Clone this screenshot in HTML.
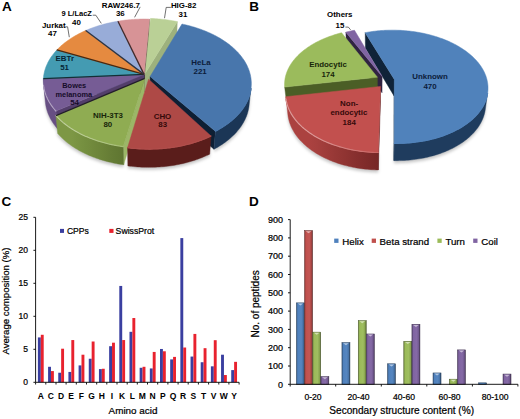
<!DOCTYPE html>
<html><head><meta charset="utf-8"><style>
html,body{margin:0;padding:0;background:#fff;}
body{width:520px;height:419px;overflow:hidden;}
svg{display:block;font-family:"Liberation Sans",sans-serif;}
</style></head><body>
<svg width="520" height="419" viewBox="0 0 520 419" font-family="'Liberation Sans', sans-serif">
<defs><filter id="shblur" x="-20%" y="-20%" width="140%" height="140%"><feGaussianBlur stdDeviation="1.8"/></filter></defs>
<rect width="520" height="419" fill="#fff"/>
<text x="2.0" y="10.8" font-size="13.50" text-anchor="start" font-weight="bold" fill="#000" >A</text>
<text x="249.3" y="11.1" font-size="13.50" text-anchor="start" font-weight="bold" fill="#000" >B</text>
<text x="1.6" y="205.6" font-size="13.50" text-anchor="start" font-weight="bold" fill="#000" >C</text>
<text x="249.0" y="205.7" font-size="13.50" text-anchor="start" font-weight="bold" fill="#000" >D</text>
<defs><linearGradient id="g0" gradientUnits="userSpaceOnUse" x1="215.40" x2="251.03" y1="0" y2="0"><stop offset="0.041" stop-color="#1b3656"/><stop offset="0.159" stop-color="#1b3656"/><stop offset="0.271" stop-color="#1b3656"/><stop offset="0.375" stop-color="#1b3656"/><stop offset="0.472" stop-color="#1b3656"/><stop offset="0.562" stop-color="#1b3656"/><stop offset="0.643" stop-color="#1b3656"/><stop offset="0.717" stop-color="#1b3656"/><stop offset="0.782" stop-color="#1b3656"/><stop offset="0.839" stop-color="#1b3656"/><stop offset="0.888" stop-color="#1b3656"/><stop offset="0.928" stop-color="#1b3656"/><stop offset="0.960" stop-color="#1b3656"/><stop offset="0.984" stop-color="#1b3656"/><stop offset="1.000" stop-color="#1b3656"/></linearGradient><linearGradient id="b1" gradientUnits="userSpaceOnUse" x1="215.40" x2="251.03" y1="0" y2="0"><stop offset="0.041" stop-color="#4876ac"/><stop offset="0.159" stop-color="#4876ac"/><stop offset="0.271" stop-color="#4876ac"/><stop offset="0.375" stop-color="#4876ac"/><stop offset="0.472" stop-color="#4876ac"/><stop offset="0.562" stop-color="#4876ac"/><stop offset="0.643" stop-color="#4876ac"/><stop offset="0.717" stop-color="#4876ac"/><stop offset="0.782" stop-color="#4876ac"/><stop offset="0.839" stop-color="#4876ac"/><stop offset="0.888" stop-color="#4876ac"/><stop offset="0.928" stop-color="#4876ac"/><stop offset="0.960" stop-color="#4876ac"/><stop offset="0.984" stop-color="#4876ac"/><stop offset="1.000" stop-color="#4876ac"/></linearGradient><linearGradient id="g2" gradientUnits="userSpaceOnUse" x1="127.55" x2="211.04" y1="0" y2="0"><stop offset="0.047" stop-color="#5a1d1b"/><stop offset="0.119" stop-color="#5a1d1b"/><stop offset="0.192" stop-color="#5a1d1b"/><stop offset="0.264" stop-color="#5a1d1b"/><stop offset="0.337" stop-color="#5a1d1b"/><stop offset="0.409" stop-color="#5a1d1b"/><stop offset="0.481" stop-color="#5a1d1b"/><stop offset="0.551" stop-color="#5a1d1b"/><stop offset="0.621" stop-color="#5a1d1b"/><stop offset="0.689" stop-color="#5a1d1b"/><stop offset="0.755" stop-color="#5a1d1b"/><stop offset="0.820" stop-color="#5a1d1b"/><stop offset="0.882" stop-color="#5a1d1b"/><stop offset="0.943" stop-color="#5a1d1b"/><stop offset="1.000" stop-color="#5a1d1b"/></linearGradient><linearGradient id="b3" gradientUnits="userSpaceOnUse" x1="127.55" x2="211.04" y1="0" y2="0"><stop offset="0.047" stop-color="#b04d4a"/><stop offset="0.119" stop-color="#b04d4a"/><stop offset="0.192" stop-color="#b04d4a"/><stop offset="0.264" stop-color="#b04d4a"/><stop offset="0.337" stop-color="#b04d4a"/><stop offset="0.409" stop-color="#b04d4a"/><stop offset="0.481" stop-color="#b04d4a"/><stop offset="0.551" stop-color="#b04d4a"/><stop offset="0.621" stop-color="#b04d4a"/><stop offset="0.689" stop-color="#b04d4a"/><stop offset="0.755" stop-color="#b04d4a"/><stop offset="0.820" stop-color="#b04d4a"/><stop offset="0.882" stop-color="#b04d4a"/><stop offset="0.943" stop-color="#b04d4a"/><stop offset="1.000" stop-color="#b04d4a"/></linearGradient><linearGradient id="g4" gradientUnits="userSpaceOnUse" x1="55.94" x2="123.26" y1="0" y2="0"><stop offset="0.028" stop-color="#7d9745"/><stop offset="0.075" stop-color="#7d9745"/><stop offset="0.125" stop-color="#7d9745"/><stop offset="0.180" stop-color="#7d9745"/><stop offset="0.238" stop-color="#7d9745"/><stop offset="0.301" stop-color="#7a9443"/><stop offset="0.367" stop-color="#779141"/><stop offset="0.437" stop-color="#748e3f"/><stop offset="0.510" stop-color="#728b3d"/><stop offset="0.585" stop-color="#6f873b"/><stop offset="0.664" stop-color="#6c8439"/><stop offset="0.745" stop-color="#698037"/><stop offset="0.828" stop-color="#657c35"/><stop offset="0.913" stop-color="#627933"/><stop offset="1.000" stop-color="#5f7531"/></linearGradient><linearGradient id="b5" gradientUnits="userSpaceOnUse" x1="55.94" x2="123.26" y1="0" y2="0"><stop offset="0.028" stop-color="#bfcf9c"/><stop offset="0.075" stop-color="#bfcf9c"/><stop offset="0.125" stop-color="#bfcf9c"/><stop offset="0.180" stop-color="#bfcf9c"/><stop offset="0.238" stop-color="#bfcf9c"/><stop offset="0.301" stop-color="#bdce98"/><stop offset="0.367" stop-color="#bacc95"/><stop offset="0.437" stop-color="#b8ca91"/><stop offset="0.510" stop-color="#b6c98d"/><stop offset="0.585" stop-color="#b3c78a"/><stop offset="0.664" stop-color="#b0c586"/><stop offset="0.745" stop-color="#aec382"/><stop offset="0.828" stop-color="#abc17e"/><stop offset="0.913" stop-color="#a8bf79"/><stop offset="1.000" stop-color="#a6bd75"/></linearGradient><linearGradient id="g6" gradientUnits="userSpaceOnUse" x1="43.54" x2="55.90" y1="0" y2="0"><stop offset="0.000" stop-color="#674f83"/><stop offset="0.025" stop-color="#674f83"/><stop offset="0.060" stop-color="#674f83"/><stop offset="0.106" stop-color="#674f83"/><stop offset="0.163" stop-color="#674f83"/><stop offset="0.230" stop-color="#674f83"/><stop offset="0.308" stop-color="#674f83"/><stop offset="0.397" stop-color="#674f83"/><stop offset="0.496" stop-color="#674f83"/><stop offset="0.606" stop-color="#674f83"/><stop offset="0.727" stop-color="#674f83"/><stop offset="0.858" stop-color="#674f83"/><stop offset="1.000" stop-color="#674f83"/></linearGradient><linearGradient id="b7" gradientUnits="userSpaceOnUse" x1="43.54" x2="55.90" y1="0" y2="0"><stop offset="0.000" stop-color="#b1a2c2"/><stop offset="0.025" stop-color="#b1a2c2"/><stop offset="0.060" stop-color="#b1a2c2"/><stop offset="0.106" stop-color="#b1a2c2"/><stop offset="0.163" stop-color="#b1a2c2"/><stop offset="0.230" stop-color="#b1a2c2"/><stop offset="0.308" stop-color="#b1a2c2"/><stop offset="0.397" stop-color="#b1a2c2"/><stop offset="0.496" stop-color="#b1a2c2"/><stop offset="0.606" stop-color="#b1a2c2"/><stop offset="0.727" stop-color="#b1a2c2"/><stop offset="0.858" stop-color="#b1a2c2"/><stop offset="1.000" stop-color="#b1a2c2"/></linearGradient></defs>
<g filter="url(#shblur)" fill="#000" fill-opacity="0.22">
<path d="M251.03,88.45 L250.87,89.55 L250.69,90.66 L250.47,91.76 L250.22,92.87 L249.93,93.97 L249.61,95.07 L249.27,96.17 L248.88,97.27 L248.47,98.36 L248.02,99.45 L247.54,100.54 L247.03,101.63 L246.48,102.71 L245.90,103.78 L245.29,104.85 L244.64,105.92 L243.97,106.98 L243.26,108.03 L242.51,109.08 L241.74,110.12 L240.93,111.16 L240.09,112.18 L239.22,113.20 L238.32,114.21 L237.38,115.21 L236.41,116.20 L235.42,117.18 L234.39,118.15 L233.33,119.11 L232.23,120.06 L231.11,120.99 L229.96,121.92 L228.78,122.83 L227.57,123.73 L226.33,124.62 L225.06,125.49 L223.76,126.35 L222.44,127.20 L221.08,128.03 L219.70,128.85 L218.30,129.65 L216.86,130.43 L215.40,131.20 L213.97,149.27 L215.40,148.50 L216.81,147.70 L218.19,146.90 L219.54,146.07 L220.87,145.24 L222.17,144.38 L223.44,143.52 L224.69,142.63 L225.91,141.74 L227.10,140.83 L228.26,139.91 L229.39,138.98 L230.49,138.03 L231.56,137.07 L232.61,136.11 L233.62,135.13 L234.60,134.14 L235.55,133.14 L236.47,132.13 L237.36,131.11 L238.22,130.08 L239.04,129.05 L239.84,128.01 L240.60,126.96 L241.33,125.90 L242.03,124.83 L242.70,123.76 L243.34,122.69 L243.94,121.61 L244.51,120.52 L245.05,119.43 L245.56,118.33 L246.03,117.23 L246.48,116.13 L246.89,115.02 L247.27,113.92 L247.61,112.80 L247.93,111.69 L248.21,110.58 L248.46,109.46 L248.68,108.35 L248.87,107.23 L249.02,106.11Z" transform="translate(0.0,2.5)"/>
<path d="M211.04,136.03 L209.47,136.77 L207.87,137.49 L206.24,138.20 L204.60,138.88 L202.92,139.54 L201.23,140.19 L199.51,140.81 L197.78,141.42 L196.02,142.00 L194.24,142.56 L192.44,143.10 L190.63,143.62 L188.80,144.12 L186.95,144.59 L185.08,145.05 L183.20,145.48 L181.30,145.88 L179.39,146.27 L177.47,146.63 L175.53,146.96 L173.58,147.28 L171.62,147.57 L169.65,147.83 L167.68,148.07 L165.69,148.29 L163.70,148.48 L161.70,148.65 L159.69,148.79 L157.68,148.91 L155.67,149.00 L153.65,149.07 L151.63,149.11 L149.61,149.13 L147.59,149.12 L145.57,149.09 L143.55,149.04 L141.54,148.95 L139.52,148.85 L137.51,148.72 L135.51,148.56 L133.51,148.38 L131.52,148.18 L129.53,147.95 L127.55,147.69 L127.89,165.89 L129.83,166.14 L131.77,166.37 L133.73,166.58 L135.68,166.76 L137.65,166.92 L139.62,167.05 L141.59,167.16 L143.56,167.24 L145.54,167.29 L147.52,167.33 L149.50,167.33 L151.48,167.31 L153.45,167.27 L155.43,167.20 L157.40,167.11 L159.37,166.99 L161.33,166.85 L163.29,166.68 L165.24,166.49 L167.19,166.27 L169.13,166.02 L171.05,165.76 L172.97,165.47 L174.88,165.15 L176.78,164.81 L178.66,164.45 L180.53,164.06 L182.39,163.65 L184.24,163.22 L186.06,162.77 L187.88,162.29 L189.67,161.79 L191.45,161.26 L193.21,160.72 L194.96,160.15 L196.68,159.57 L198.38,158.96 L200.06,158.33 L201.73,157.68 L203.36,157.01 L204.98,156.32 L206.57,155.61 L208.14,154.88 L209.69,154.14Z" transform="translate(0.0,2.5)"/>
<path d="M123.26,146.62 L121.30,146.35 L119.36,146.05 L117.42,145.73 L115.50,145.38 L113.59,145.01 L111.69,144.62 L109.81,144.20 L107.94,143.77 L106.09,143.30 L104.26,142.82 L102.44,142.32 L100.64,141.79 L98.85,141.25 L97.09,140.68 L95.34,140.09 L93.62,139.48 L91.92,138.85 L90.24,138.20 L88.58,137.53 L86.95,136.84 L85.33,136.14 L83.75,135.41 L82.19,134.67 L80.65,133.91 L79.14,133.13 L77.65,132.34 L76.20,131.52 L74.77,130.70 L73.36,129.85 L71.99,128.99 L70.64,128.12 L69.33,127.23 L68.04,126.33 L66.79,125.41 L65.56,124.48 L64.36,123.54 L63.20,122.59 L62.07,121.62 L60.96,120.64 L59.89,119.65 L58.86,118.65 L57.85,117.64 L56.88,116.62 L55.94,115.59 L57.67,133.52 L58.59,134.56 L59.55,135.59 L60.54,136.61 L61.56,137.62 L62.61,138.62 L63.69,139.61 L64.80,140.58 L65.95,141.55 L67.12,142.50 L68.33,143.43 L69.56,144.36 L70.82,145.27 L72.11,146.16 L73.43,147.04 L74.78,147.91 L76.16,148.76 L77.56,149.60 L78.99,150.41 L80.45,151.22 L81.93,152.00 L83.44,152.77 L84.97,153.52 L86.53,154.25 L88.10,154.96 L89.71,155.65 L91.33,156.33 L92.98,156.98 L94.65,157.61 L96.34,158.23 L98.05,158.82 L99.78,159.39 L101.52,159.94 L103.29,160.47 L105.07,160.98 L106.87,161.47 L108.68,161.93 L110.51,162.37 L112.36,162.79 L114.22,163.18 L116.09,163.56 L117.97,163.91 L119.87,164.23 L121.77,164.53 L123.69,164.81Z" transform="translate(0.0,2.5)"/>
<path d="M55.90,111.05 L55.01,110.03 L54.15,109.01 L53.32,107.98 L52.53,106.94 L51.76,105.90 L51.03,104.85 L50.34,103.79 L49.67,102.73 L49.04,101.66 L48.45,100.59 L47.88,99.51 L47.35,98.43 L46.85,97.34 L46.39,96.25 L45.95,95.16 L45.55,94.06 L45.19,92.97 L44.85,91.87 L44.55,90.77 L44.29,89.66 L44.05,88.56 L43.85,87.46 L43.68,86.36 L43.54,85.25 L45.41,102.88 L45.55,104.00 L45.72,105.11 L45.93,106.23 L46.16,107.34 L46.43,108.45 L46.73,109.57 L47.06,110.68 L47.42,111.79 L47.82,112.89 L48.24,114.00 L48.70,115.10 L49.20,116.19 L49.72,117.29 L50.28,118.38 L50.87,119.46 L51.49,120.54 L52.14,121.61 L52.83,122.68 L53.55,123.74 L54.30,124.80 L55.08,125.84 L55.89,126.88 L56.74,127.91 L57.62,128.94Z" transform="translate(0.0,2.5)"/>
</g>
<path d="M144.06,74.39 L149.49,19.15 L149.40,35.90 L144.06,91.89Z" fill="#563537" stroke="#563537" stroke-width="0.4" stroke-linejoin="round"/>
<path d="M145.09,73.53 L177.28,21.63 L176.73,38.42 L145.07,91.02Z" fill="#9db17d" stroke="#9db17d" stroke-width="0.4" stroke-linejoin="round"/>
<path d="M144.06,74.39 L117.94,21.18 L118.37,37.96 L144.06,91.89Z" fill="#563537" stroke="#563537" stroke-width="0.4" stroke-linejoin="round"/>
<path d="M144.06,74.39 L85.73,30.50 L86.72,47.43 L144.06,91.89Z" fill="#374156" stroke="#374156" stroke-width="0.4" stroke-linejoin="round"/>
<path d="M144.06,74.39 L56.86,49.99 L58.39,67.19 L144.06,91.89Z" fill="#5c300c" stroke="#5c300c" stroke-width="0.4" stroke-linejoin="round"/>
<path d="M144.06,74.39 L43.38,78.67 L45.24,96.22 L144.06,91.89Z" fill="#123c47" stroke="#123c47" stroke-width="0.4" stroke-linejoin="round"/>
<path d="M144.06,74.39 L55.90,111.05 L57.62,128.94 L144.06,91.89Z" fill="#533e6b" stroke="#533e6b" stroke-width="0.4" stroke-linejoin="round"/>
<path d="M55.90,111.05 L55.01,110.03 L54.15,109.01 L53.32,107.98 L52.53,106.94 L51.76,105.90 L51.03,104.85 L50.34,103.79 L49.67,102.73 L49.04,101.66 L48.45,100.59 L47.88,99.51 L47.35,98.43 L46.85,97.34 L46.39,96.25 L45.95,95.16 L45.55,94.06 L45.19,92.97 L44.85,91.87 L44.55,90.77 L44.29,89.66 L44.05,88.56 L43.85,87.46 L43.68,86.36 L43.54,85.25 L45.41,102.88 L45.55,104.00 L45.72,105.11 L45.93,106.23 L46.16,107.34 L46.43,108.45 L46.73,109.57 L47.06,110.68 L47.42,111.79 L47.82,112.89 L48.24,114.00 L48.70,115.10 L49.20,116.19 L49.72,117.29 L50.28,118.38 L50.87,119.46 L51.49,120.54 L52.14,121.61 L52.83,122.68 L53.55,123.74 L54.30,124.80 L55.08,125.84 L55.89,126.88 L56.74,127.91 L57.62,128.94Z" fill="url(#g6)" stroke="url(#g6)" stroke-width="0.4" stroke-linejoin="round"/>
<path d="M150.13,76.48 L215.40,131.20 L213.97,149.27 L150.02,94.01Z" fill="#0e1f34" stroke="#0e1f34" stroke-width="0.4" stroke-linejoin="round"/>
<path d="M251.03,88.45 L250.87,89.55 L250.69,90.66 L250.47,91.76 L250.22,92.87 L249.93,93.97 L249.61,95.07 L249.27,96.17 L248.88,97.27 L248.47,98.36 L248.02,99.45 L247.54,100.54 L247.03,101.63 L246.48,102.71 L245.90,103.78 L245.29,104.85 L244.64,105.92 L243.97,106.98 L243.26,108.03 L242.51,109.08 L241.74,110.12 L240.93,111.16 L240.09,112.18 L239.22,113.20 L238.32,114.21 L237.38,115.21 L236.41,116.20 L235.42,117.18 L234.39,118.15 L233.33,119.11 L232.23,120.06 L231.11,120.99 L229.96,121.92 L228.78,122.83 L227.57,123.73 L226.33,124.62 L225.06,125.49 L223.76,126.35 L222.44,127.20 L221.08,128.03 L219.70,128.85 L218.30,129.65 L216.86,130.43 L215.40,131.20 L213.97,149.27 L215.40,148.50 L216.81,147.70 L218.19,146.90 L219.54,146.07 L220.87,145.24 L222.17,144.38 L223.44,143.52 L224.69,142.63 L225.91,141.74 L227.10,140.83 L228.26,139.91 L229.39,138.98 L230.49,138.03 L231.56,137.07 L232.61,136.11 L233.62,135.13 L234.60,134.14 L235.55,133.14 L236.47,132.13 L237.36,131.11 L238.22,130.08 L239.04,129.05 L239.84,128.01 L240.60,126.96 L241.33,125.90 L242.03,124.83 L242.70,123.76 L243.34,122.69 L243.94,121.61 L244.51,120.52 L245.05,119.43 L245.56,118.33 L246.03,117.23 L246.48,116.13 L246.89,115.02 L247.27,113.92 L247.61,112.80 L247.93,111.69 L248.21,110.58 L248.46,109.46 L248.68,108.35 L248.87,107.23 L249.02,106.11Z" fill="url(#g0)" stroke="url(#g0)" stroke-width="0.4" stroke-linejoin="round"/>
<path d="M144.71,78.40 L123.26,146.62 L123.69,164.81 L144.70,95.95Z" fill="#9cb667" stroke="#9cb667" stroke-width="0.4" stroke-linejoin="round"/>
<path d="M123.26,146.62 L121.30,146.35 L119.36,146.05 L117.42,145.73 L115.50,145.38 L113.59,145.01 L111.69,144.62 L109.81,144.20 L107.94,143.77 L106.09,143.30 L104.26,142.82 L102.44,142.32 L100.64,141.79 L98.85,141.25 L97.09,140.68 L95.34,140.09 L93.62,139.48 L91.92,138.85 L90.24,138.20 L88.58,137.53 L86.95,136.84 L85.33,136.14 L83.75,135.41 L82.19,134.67 L80.65,133.91 L79.14,133.13 L77.65,132.34 L76.20,131.52 L74.77,130.70 L73.36,129.85 L71.99,128.99 L70.64,128.12 L69.33,127.23 L68.04,126.33 L66.79,125.41 L65.56,124.48 L64.36,123.54 L63.20,122.59 L62.07,121.62 L60.96,120.64 L59.89,119.65 L58.86,118.65 L57.85,117.64 L56.88,116.62 L55.94,115.59 L57.67,133.52 L58.59,134.56 L59.55,135.59 L60.54,136.61 L61.56,137.62 L62.61,138.62 L63.69,139.61 L64.80,140.58 L65.95,141.55 L67.12,142.50 L68.33,143.43 L69.56,144.36 L70.82,145.27 L72.11,146.16 L73.43,147.04 L74.78,147.91 L76.16,148.76 L77.56,149.60 L78.99,150.41 L80.45,151.22 L81.93,152.00 L83.44,152.77 L84.97,153.52 L86.53,154.25 L88.10,154.96 L89.71,155.65 L91.33,156.33 L92.98,156.98 L94.65,157.61 L96.34,158.23 L98.05,158.82 L99.78,159.39 L101.52,159.94 L103.29,160.47 L105.07,160.98 L106.87,161.47 L108.68,161.93 L110.51,162.37 L112.36,162.79 L114.22,163.18 L116.09,163.56 L117.97,163.91 L119.87,164.23 L121.77,164.53 L123.69,164.81Z" fill="url(#g4)" stroke="url(#g4)" stroke-width="0.4" stroke-linejoin="round"/>
<path d="M211.04,136.03 L209.47,136.77 L207.87,137.49 L206.24,138.20 L204.60,138.88 L202.92,139.54 L201.23,140.19 L199.51,140.81 L197.78,141.42 L196.02,142.00 L194.24,142.56 L192.44,143.10 L190.63,143.62 L188.80,144.12 L186.95,144.59 L185.08,145.05 L183.20,145.48 L181.30,145.88 L179.39,146.27 L177.47,146.63 L175.53,146.96 L173.58,147.28 L171.62,147.57 L169.65,147.83 L167.68,148.07 L165.69,148.29 L163.70,148.48 L161.70,148.65 L159.69,148.79 L157.68,148.91 L155.67,149.00 L153.65,149.07 L151.63,149.11 L149.61,149.13 L147.59,149.12 L145.57,149.09 L143.55,149.04 L141.54,148.95 L139.52,148.85 L137.51,148.72 L135.51,148.56 L133.51,148.38 L131.52,148.18 L129.53,147.95 L127.55,147.69 L127.89,165.89 L129.83,166.14 L131.77,166.37 L133.73,166.58 L135.68,166.76 L137.65,166.92 L139.62,167.05 L141.59,167.16 L143.56,167.24 L145.54,167.29 L147.52,167.33 L149.50,167.33 L151.48,167.31 L153.45,167.27 L155.43,167.20 L157.40,167.11 L159.37,166.99 L161.33,166.85 L163.29,166.68 L165.24,166.49 L167.19,166.27 L169.13,166.02 L171.05,165.76 L172.97,165.47 L174.88,165.15 L176.78,164.81 L178.66,164.45 L180.53,164.06 L182.39,163.65 L184.24,163.22 L186.06,162.77 L187.88,162.29 L189.67,161.79 L191.45,161.26 L193.21,160.72 L194.96,160.15 L196.68,159.57 L198.38,158.96 L200.06,158.33 L201.73,157.68 L203.36,157.01 L204.98,156.32 L206.57,155.61 L208.14,154.88 L209.69,154.14Z" fill="url(#g2)" stroke="url(#g2)" stroke-width="0.4" stroke-linejoin="round"/>
<path d="M150.13,76.48 L182.01,24.06 L183.52,24.39 L185.03,24.73 L186.53,25.08 L188.02,25.45 L189.50,25.83 L190.97,26.23 L192.43,26.64 L193.89,27.07 L195.33,27.51 L196.76,27.97 L198.19,28.44 L199.60,28.92 L201.00,29.42 L202.39,29.93 L203.77,30.46 L205.13,31.00 L206.49,31.56 L207.83,32.13 L209.15,32.71 L210.46,33.31 L211.76,33.92 L213.05,34.54 L214.32,35.18 L215.57,35.83 L216.81,36.49 L218.03,37.17 L219.24,37.86 L220.43,38.56 L221.60,39.27 L222.76,40.00 L223.89,40.74 L225.01,41.49 L226.11,42.26 L227.20,43.03 L228.26,43.82 L229.31,44.62 L230.33,45.44 L231.33,46.26 L232.32,47.09 L233.28,47.94 L234.22,48.80 L235.14,49.66 L236.04,50.54 L236.92,51.43 L237.77,52.33 L238.60,53.24 L239.41,54.15 L240.19,55.08 L240.95,56.02 L241.69,56.97 L242.40,57.92 L243.09,58.89 L243.75,59.86 L244.39,60.84 L245.00,61.83 L245.58,62.83 L246.14,63.84 L246.67,64.85 L247.17,65.87 L247.65,66.90 L248.10,67.93 L248.52,68.97 L248.91,70.02 L249.27,71.07 L249.61,72.13 L249.91,73.19 L250.19,74.26 L250.44,75.33 L250.66,76.41 L250.85,77.49 L251.00,78.57 L251.13,79.66 L251.23,80.75 L251.29,81.84 L251.33,82.94 L251.33,84.04 L251.30,85.14 L251.24,86.24 L251.15,87.35 L251.03,88.45 L250.87,89.55 L250.69,90.66 L250.47,91.76 L250.22,92.87 L249.93,93.97 L249.61,95.07 L249.27,96.17 L248.88,97.27 L248.47,98.36 L248.02,99.45 L247.54,100.54 L247.03,101.63 L246.48,102.71 L245.90,103.78 L245.29,104.85 L244.64,105.92 L243.97,106.98 L243.26,108.03 L242.51,109.08 L241.74,110.12 L240.93,111.16 L240.09,112.18 L239.22,113.20 L238.32,114.21 L237.38,115.21 L236.41,116.20 L235.42,117.18 L234.39,118.15 L233.33,119.11 L232.23,120.06 L231.11,120.99 L229.96,121.92 L228.78,122.83 L227.57,123.73 L226.33,124.62 L225.06,125.49 L223.76,126.35 L222.44,127.20 L221.08,128.03 L219.70,128.85 L218.30,129.65 L216.86,130.43 L215.40,131.20Z" fill="#4876ac" stroke="#4876ac" stroke-width="0.5" stroke-linejoin="round"/>
<path d="M148.59,79.25 L211.04,136.03 L209.47,136.77 L207.87,137.49 L206.24,138.20 L204.60,138.88 L202.92,139.54 L201.23,140.19 L199.51,140.81 L197.78,141.42 L196.02,142.00 L194.24,142.56 L192.44,143.10 L190.63,143.62 L188.80,144.12 L186.95,144.59 L185.08,145.05 L183.20,145.48 L181.30,145.88 L179.39,146.27 L177.47,146.63 L175.53,146.96 L173.58,147.28 L171.62,147.57 L169.65,147.83 L167.68,148.07 L165.69,148.29 L163.70,148.48 L161.70,148.65 L159.69,148.79 L157.68,148.91 L155.67,149.00 L153.65,149.07 L151.63,149.11 L149.61,149.13 L147.59,149.12 L145.57,149.09 L143.55,149.04 L141.54,148.95 L139.52,148.85 L137.51,148.72 L135.51,148.56 L133.51,148.38 L131.52,148.18 L129.53,147.95 L127.55,147.69Z" fill="#ae4946" stroke="#ae4946" stroke-width="0.5" stroke-linejoin="round"/>
<path d="M144.71,78.40 L123.26,146.62 L121.30,146.35 L119.36,146.05 L117.42,145.73 L115.50,145.38 L113.59,145.01 L111.69,144.62 L109.81,144.20 L107.94,143.77 L106.09,143.30 L104.26,142.82 L102.44,142.32 L100.64,141.79 L98.85,141.25 L97.09,140.68 L95.34,140.09 L93.62,139.48 L91.92,138.85 L90.24,138.20 L88.58,137.53 L86.95,136.84 L85.33,136.14 L83.75,135.41 L82.19,134.67 L80.65,133.91 L79.14,133.13 L77.65,132.34 L76.20,131.52 L74.77,130.70 L73.36,129.85 L71.99,128.99 L70.64,128.12 L69.33,127.23 L68.04,126.33 L66.79,125.41 L65.56,124.48 L64.36,123.54 L63.20,122.59 L62.07,121.62 L60.96,120.64 L59.89,119.65 L58.86,118.65 L57.85,117.64 L56.88,116.62 L55.94,115.59Z" fill="#8fac52" stroke="#8fac52" stroke-width="0.5" stroke-linejoin="round"/>
<path d="M144.06,74.39 L55.90,111.05 L55.01,110.03 L54.15,109.01 L53.32,107.98 L52.53,106.94 L51.76,105.90 L51.03,104.85 L50.34,103.79 L49.67,102.73 L49.04,101.66 L48.45,100.59 L47.88,99.51 L47.35,98.43 L46.85,97.34 L46.39,96.25 L45.95,95.16 L45.55,94.06 L45.19,92.97 L44.85,91.87 L44.55,90.77 L44.29,89.66 L44.05,88.56 L43.85,87.46 L43.68,86.36 L43.54,85.25 L43.43,84.15 L43.36,83.05 L43.32,81.95 L43.31,80.86 L43.33,79.76 L43.38,78.67Z" fill="#765c95" stroke="#765c95" stroke-width="0.5" stroke-linejoin="round"/>
<path d="M144.06,74.39 L43.38,78.67 L43.46,77.57 L43.58,76.47 L43.73,75.37 L43.91,74.28 L44.12,73.19 L44.36,72.11 L44.63,71.03 L44.93,69.95 L45.26,68.89 L45.62,67.82 L46.01,66.77 L46.43,65.72 L46.88,64.68 L47.36,63.64 L47.86,62.61 L48.40,61.59 L48.96,60.57 L49.54,59.57 L50.16,58.57 L50.80,57.58 L51.47,56.60 L52.16,55.63 L52.88,54.66 L53.63,53.71 L54.40,52.77 L55.19,51.83 L56.01,50.91 L56.86,49.99Z" fill="#449bb2" stroke="#449bb2" stroke-width="0.5" stroke-linejoin="round"/>
<path d="M144.06,74.39 L56.86,49.99 L57.72,49.10 L58.60,48.21 L59.50,47.34 L60.43,46.47 L61.38,45.62 L62.35,44.77 L63.34,43.94 L64.36,43.12 L65.39,42.32 L66.44,41.52 L67.52,40.73 L68.61,39.96 L69.72,39.20 L70.85,38.46 L72.00,37.72 L73.17,37.00 L74.35,36.29 L75.55,35.59 L76.77,34.91 L78.00,34.24 L79.25,33.58 L80.52,32.94 L81.80,32.31 L83.09,31.69 L84.40,31.09 L85.73,30.50Z" fill="#e58a40" stroke="#e58a40" stroke-width="0.5" stroke-linejoin="round"/>
<path d="M144.06,74.39 L85.73,30.50 L87.08,29.92 L88.44,29.36 L89.81,28.81 L91.20,28.28 L92.60,27.75 L94.01,27.25 L95.43,26.76 L96.86,26.28 L98.31,25.82 L99.76,25.37 L101.23,24.94 L102.71,24.52 L104.19,24.12 L105.69,23.73 L107.19,23.36 L108.70,23.00 L110.23,22.66 L111.75,22.33 L113.29,22.02 L114.83,21.72 L116.38,21.44 L117.94,21.18Z" fill="#98acd8" stroke="#98acd8" stroke-width="0.5" stroke-linejoin="round"/>
<path d="M144.06,74.39 L117.94,21.18 L119.48,20.93 L121.03,20.70 L122.59,20.48 L124.15,20.28 L125.72,20.09 L127.29,19.92 L128.86,19.77 L130.44,19.63 L132.02,19.50 L133.60,19.39 L135.18,19.30 L136.77,19.22 L138.36,19.16 L139.95,19.11 L141.54,19.08 L143.13,19.06 L144.72,19.06 L146.31,19.07 L147.90,19.10 L149.49,19.15Z" fill="#d79396" stroke="#d79396" stroke-width="0.5" stroke-linejoin="round"/>
<path d="M145.09,73.53 L150.42,18.45 L152.02,18.51 L153.63,18.59 L155.23,18.68 L156.84,18.79 L158.43,18.91 L160.03,19.05 L161.62,19.21 L163.21,19.38 L164.80,19.57 L166.38,19.77 L167.95,19.99 L169.52,20.22 L171.08,20.47 L172.64,20.74 L174.20,21.02 L175.74,21.32 L177.28,21.63Z" fill="#bad096" stroke="#bad096" stroke-width="0.5" stroke-linejoin="round"/>
<path d="M251.03,88.45 L250.87,89.55 L250.69,90.66 L250.47,91.76 L250.22,92.87 L249.93,93.97 L249.61,95.07 L249.27,96.17 L248.88,97.27 L248.47,98.36 L248.02,99.45 L247.54,100.54 L247.03,101.63 L246.48,102.71 L245.90,103.78 L245.29,104.85 L244.64,105.92 L243.97,106.98 L243.26,108.03 L242.51,109.08 L241.74,110.12 L240.93,111.16 L240.09,112.18 L239.22,113.20 L238.32,114.21 L237.38,115.21 L236.41,116.20 L235.42,117.18 L234.39,118.15 L233.33,119.11 L232.23,120.06 L231.11,120.99 L229.96,121.92 L228.78,122.83 L227.57,123.73 L226.33,124.62 L225.06,125.49 L223.76,126.35 L222.44,127.20 L221.08,128.03 L219.70,128.85 L218.30,129.65 L216.86,130.43 L215.40,131.20" fill="none" stroke="url(#b1)" stroke-width="1.10" stroke-linecap="round"/>
<path d="M211.04,136.03 L209.47,136.77 L207.87,137.49 L206.24,138.20 L204.60,138.88 L202.92,139.54 L201.23,140.19 L199.51,140.81 L197.78,141.42 L196.02,142.00 L194.24,142.56 L192.44,143.10 L190.63,143.62 L188.80,144.12 L186.95,144.59 L185.08,145.05 L183.20,145.48 L181.30,145.88 L179.39,146.27 L177.47,146.63 L175.53,146.96 L173.58,147.28 L171.62,147.57 L169.65,147.83 L167.68,148.07 L165.69,148.29 L163.70,148.48 L161.70,148.65 L159.69,148.79 L157.68,148.91 L155.67,149.00 L153.65,149.07 L151.63,149.11 L149.61,149.13 L147.59,149.12 L145.57,149.09 L143.55,149.04 L141.54,148.95 L139.52,148.85 L137.51,148.72 L135.51,148.56 L133.51,148.38 L131.52,148.18 L129.53,147.95 L127.55,147.69" fill="none" stroke="url(#b3)" stroke-width="1.10" stroke-linecap="round"/>
<path d="M123.26,146.62 L121.30,146.35 L119.36,146.05 L117.42,145.73 L115.50,145.38 L113.59,145.01 L111.69,144.62 L109.81,144.20 L107.94,143.77 L106.09,143.30 L104.26,142.82 L102.44,142.32 L100.64,141.79 L98.85,141.25 L97.09,140.68 L95.34,140.09 L93.62,139.48 L91.92,138.85 L90.24,138.20 L88.58,137.53 L86.95,136.84 L85.33,136.14 L83.75,135.41 L82.19,134.67 L80.65,133.91 L79.14,133.13 L77.65,132.34 L76.20,131.52 L74.77,130.70 L73.36,129.85 L71.99,128.99 L70.64,128.12 L69.33,127.23 L68.04,126.33 L66.79,125.41 L65.56,124.48 L64.36,123.54 L63.20,122.59 L62.07,121.62 L60.96,120.64 L59.89,119.65 L58.86,118.65 L57.85,117.64 L56.88,116.62 L55.94,115.59" fill="none" stroke="url(#b5)" stroke-width="1.10" stroke-linecap="round"/>
<path d="M55.90,111.05 L55.01,110.03 L54.15,109.01 L53.32,107.98 L52.53,106.94 L51.76,105.90 L51.03,104.85 L50.34,103.79 L49.67,102.73 L49.04,101.66 L48.45,100.59 L47.88,99.51 L47.35,98.43 L46.85,97.34 L46.39,96.25 L45.95,95.16 L45.55,94.06 L45.19,92.97 L44.85,91.87 L44.55,90.77 L44.29,89.66 L44.05,88.56 L43.85,87.46 L43.68,86.36 L43.54,85.25" fill="none" stroke="url(#b7)" stroke-width="1.10" stroke-linecap="round"/>
<path d="M144.06,74.39 L43.38,78.67" stroke="#142e35" stroke-width="1.30" stroke-linecap="butt"/>
<path d="M144.06,74.39 L56.86,49.99" stroke="#452913" stroke-width="1.30" stroke-linecap="butt"/>
<path d="M144.06,74.39 L85.73,30.50" stroke="#2e3441" stroke-width="1.30" stroke-linecap="butt"/>
<path d="M144.06,74.39 L117.94,21.18" stroke="#402c2d" stroke-width="1.30" stroke-linecap="butt"/>
<path d="M144.71,78.40 L55.94,115.59" stroke="#231c2d" stroke-width="1.40" stroke-linecap="butt"/>
<defs><linearGradient id="g8" gradientUnits="userSpaceOnUse" x1="394.29" x2="487.60" y1="0" y2="0"><stop offset="0.100" stop-color="#1f3c5e"/><stop offset="0.218" stop-color="#1f3c5e"/><stop offset="0.333" stop-color="#1f3c5e"/><stop offset="0.442" stop-color="#1f3c5e"/><stop offset="0.545" stop-color="#1f3c5e"/><stop offset="0.640" stop-color="#1f3c5e"/><stop offset="0.725" stop-color="#1f3c5e"/><stop offset="0.800" stop-color="#1f3c5e"/><stop offset="0.864" stop-color="#1f3c5e"/><stop offset="0.916" stop-color="#1f3c5e"/><stop offset="0.956" stop-color="#1f3c5e"/><stop offset="0.984" stop-color="#1f3c5e"/><stop offset="1.000" stop-color="#1f3c5e"/></linearGradient><linearGradient id="b9" gradientUnits="userSpaceOnUse" x1="394.29" x2="487.60" y1="0" y2="0"><stop offset="0.100" stop-color="#5082bb"/><stop offset="0.218" stop-color="#5082bb"/><stop offset="0.333" stop-color="#5082bb"/><stop offset="0.442" stop-color="#5082bb"/><stop offset="0.545" stop-color="#5082bb"/><stop offset="0.640" stop-color="#5082bb"/><stop offset="0.725" stop-color="#5082bb"/><stop offset="0.800" stop-color="#5082bb"/><stop offset="0.864" stop-color="#5082bb"/><stop offset="0.916" stop-color="#5082bb"/><stop offset="0.956" stop-color="#5082bb"/><stop offset="0.984" stop-color="#5082bb"/><stop offset="1.000" stop-color="#5082bb"/></linearGradient><linearGradient id="g10" gradientUnits="userSpaceOnUse" x1="285.95" x2="378.33" y1="0" y2="0"><stop offset="0.009" stop-color="#ab4240"/><stop offset="0.032" stop-color="#ab4240"/><stop offset="0.068" stop-color="#ab4240"/><stop offset="0.117" stop-color="#ab4240"/><stop offset="0.177" stop-color="#ab4240"/><stop offset="0.249" stop-color="#ab4240"/><stop offset="0.333" stop-color="#a6403e"/><stop offset="0.427" stop-color="#9f3c3a"/><stop offset="0.529" stop-color="#973836"/><stop offset="0.640" stop-color="#903432"/><stop offset="0.756" stop-color="#872f2e"/><stop offset="0.877" stop-color="#7f2b2a"/><stop offset="1.000" stop-color="#762726"/></linearGradient><linearGradient id="b11" gradientUnits="userSpaceOnUse" x1="285.95" x2="378.33" y1="0" y2="0"><stop offset="0.009" stop-color="#dc9b9a"/><stop offset="0.032" stop-color="#dc9b9a"/><stop offset="0.068" stop-color="#dc9b9a"/><stop offset="0.117" stop-color="#dc9b9a"/><stop offset="0.177" stop-color="#dc9b9a"/><stop offset="0.249" stop-color="#dc9b9a"/><stop offset="0.333" stop-color="#da9695"/><stop offset="0.427" stop-color="#d88f8e"/><stop offset="0.529" stop-color="#d58786"/><stop offset="0.640" stop-color="#d27f7e"/><stop offset="0.756" stop-color="#d07775"/><stop offset="0.877" stop-color="#cd6e6d"/><stop offset="1.000" stop-color="#ca6664"/></linearGradient></defs>
<g filter="url(#shblur)" fill="#000" fill-opacity="0.22">
<path d="M487.60,93.41 L487.43,94.42 L487.22,95.42 L486.99,96.43 L486.72,97.44 L486.42,98.44 L486.10,99.45 L485.74,100.45 L485.35,101.45 L484.93,102.44 L484.48,103.44 L484.00,104.43 L483.48,105.41 L482.94,106.39 L482.36,107.37 L481.75,108.34 L481.11,109.31 L480.44,110.27 L479.74,111.23 L479.01,112.17 L478.25,113.12 L477.45,114.05 L476.63,114.98 L475.77,115.89 L474.88,116.80 L473.97,117.70 L473.02,118.60 L472.04,119.48 L471.04,120.35 L470.00,121.21 L468.94,122.06 L467.84,122.90 L466.72,123.72 L465.57,124.54 L464.39,125.34 L463.18,126.13 L461.95,126.91 L460.69,127.67 L459.40,128.42 L458.08,129.15 L456.74,129.87 L455.38,130.57 L453.99,131.26 L452.57,131.93 L451.13,132.59 L449.67,133.23 L448.19,133.85 L446.68,134.46 L445.15,135.04 L443.60,135.61 L442.03,136.17 L440.44,136.70 L438.83,137.21 L437.20,137.71 L435.55,138.18 L433.88,138.64 L432.20,139.08 L430.50,139.49 L428.79,139.89 L427.06,140.27 L425.32,140.62 L423.56,140.95 L421.79,141.27 L420.01,141.56 L418.22,141.83 L416.42,142.08 L414.61,142.30 L412.79,142.51 L410.96,142.69 L409.13,142.85 L407.28,142.99 L405.44,143.11 L403.59,143.20 L401.73,143.27 L399.87,143.32 L398.01,143.35 L396.15,143.35 L394.29,143.33 L393.90,160.63 L395.71,160.65 L397.53,160.65 L399.35,160.62 L401.16,160.57 L402.97,160.50 L404.78,160.41 L406.58,160.29 L408.38,160.15 L410.17,159.99 L411.95,159.80 L413.73,159.59 L415.50,159.37 L417.26,159.11 L419.00,158.84 L420.74,158.55 L422.47,158.23 L424.18,157.89 L425.88,157.54 L427.57,157.16 L429.25,156.76 L430.91,156.33 L432.55,155.89 L434.18,155.43 L435.79,154.95 L437.38,154.45 L438.95,153.93 L440.51,153.39 L442.04,152.83 L443.56,152.26 L445.05,151.66 L446.53,151.05 L447.98,150.42 L449.41,149.78 L450.82,149.11 L452.20,148.43 L453.56,147.74 L454.90,147.03 L456.21,146.30 L457.50,145.56 L458.76,144.80 L459.99,144.03 L461.20,143.24 L462.38,142.45 L463.54,141.63 L464.67,140.81 L465.77,139.97 L466.84,139.13 L467.88,138.27 L468.90,137.39 L469.89,136.51 L470.84,135.62 L471.77,134.72 L472.67,133.81 L473.54,132.88 L474.38,131.95 L475.19,131.02 L475.97,130.07 L476.73,129.12 L477.45,128.16 L478.14,127.19 L478.80,126.21 L479.42,125.23 L480.02,124.25 L480.59,123.26 L481.13,122.26 L481.64,121.26 L482.11,120.26 L482.56,119.25 L482.98,118.24 L483.36,117.23 L483.72,116.21 L484.04,115.20 L484.34,114.18 L484.60,113.16 L484.84,112.13 L485.04,111.11 L485.22,110.09Z" transform="translate(0.0,2.5)"/>
<path d="M378.33,152.56 L376.43,152.51 L374.53,152.45 L372.63,152.36 L370.73,152.25 L368.84,152.11 L366.96,151.95 L365.08,151.77 L363.21,151.56 L361.34,151.33 L359.49,151.08 L357.64,150.80 L355.80,150.51 L353.98,150.19 L352.17,149.85 L350.37,149.48 L348.58,149.10 L346.80,148.69 L345.05,148.26 L343.30,147.81 L341.58,147.34 L339.87,146.85 L338.17,146.34 L336.50,145.81 L334.85,145.26 L333.21,144.69 L331.60,144.11 L330.00,143.50 L328.43,142.87 L326.88,142.23 L325.36,141.57 L323.85,140.89 L322.37,140.19 L320.92,139.48 L319.49,138.75 L318.08,138.01 L316.70,137.25 L315.35,136.47 L314.02,135.68 L312.72,134.88 L311.45,134.06 L310.21,133.23 L308.99,132.38 L307.80,131.52 L306.65,130.65 L305.52,129.77 L304.42,128.88 L303.35,127.97 L302.31,127.06 L301.30,126.13 L300.32,125.20 L299.38,124.26 L298.46,123.30 L297.57,122.34 L296.72,121.37 L295.90,120.39 L295.11,119.41 L294.35,118.42 L293.62,117.42 L292.92,116.42 L292.26,115.41 L291.63,114.39 L291.02,113.37 L290.46,112.35 L289.92,111.32 L289.41,110.29 L288.94,109.26 L288.50,108.22 L288.09,107.18 L287.71,106.14 L287.37,105.10 L287.05,104.05 L286.77,103.01 L286.52,101.96 L286.30,100.92 L286.11,99.87 L285.95,98.82 L287.97,115.58 L288.13,116.64 L288.32,117.70 L288.54,118.76 L288.80,119.82 L289.08,120.88 L289.39,121.94 L289.73,123.00 L290.10,124.06 L290.51,125.11 L290.94,126.16 L291.41,127.21 L291.91,128.25 L292.44,129.29 L293.00,130.33 L293.59,131.36 L294.21,132.39 L294.86,133.41 L295.55,134.43 L296.26,135.44 L297.01,136.44 L297.79,137.44 L298.59,138.43 L299.43,139.41 L300.30,140.38 L301.20,141.35 L302.13,142.30 L303.09,143.25 L304.08,144.19 L305.09,145.11 L306.14,146.03 L307.22,146.93 L308.32,147.82 L309.46,148.70 L310.62,149.57 L311.81,150.42 L313.03,151.26 L314.27,152.09 L315.54,152.90 L316.84,153.70 L318.16,154.48 L319.51,155.25 L320.88,156.00 L322.28,156.74 L323.70,157.46 L325.15,158.16 L326.62,158.85 L328.11,159.52 L329.63,160.17 L331.16,160.80 L332.72,161.41 L334.29,162.01 L335.89,162.58 L337.51,163.14 L339.14,163.67 L340.79,164.19 L342.46,164.68 L344.15,165.16 L345.85,165.61 L347.57,166.04 L349.30,166.45 L351.04,166.84 L352.80,167.21 L354.57,167.55 L356.35,167.88 L358.14,168.18 L359.94,168.45 L361.75,168.71 L363.57,168.94 L365.40,169.15 L367.23,169.33 L369.07,169.49 L370.91,169.63 L372.76,169.75 L374.61,169.84 L376.47,169.90 L378.32,169.95Z" transform="translate(0.0,2.5)"/>
</g>
<path d="M382.13,76.46 L345.85,32.15 L346.46,47.73 L382.05,92.87Z" fill="#302341" stroke="#302341" stroke-width="0.4" stroke-linejoin="round"/>
<path d="M394.35,79.45 L365.19,32.65 L365.43,48.23 L394.00,95.91Z" fill="#102338" stroke="#102338" stroke-width="0.4" stroke-linejoin="round"/>
<path d="M377.44,77.23 L284.65,87.11 L286.65,103.69 L377.45,93.66Z" fill="#4b5e26" stroke="#4b5e26" stroke-width="0.4" stroke-linejoin="round"/>
<path d="M394.35,79.45 L394.29,143.33 L393.90,160.63 L394.00,95.91Z" fill="#172f4b" stroke="#172f4b" stroke-width="0.4" stroke-linejoin="round"/>
<path d="M380.48,86.43 L378.33,152.56 L378.32,169.95 L380.43,103.01Z" fill="#571a19" stroke="#571a19" stroke-width="0.4" stroke-linejoin="round"/>
<path d="M487.60,93.41 L487.43,94.42 L487.22,95.42 L486.99,96.43 L486.72,97.44 L486.42,98.44 L486.10,99.45 L485.74,100.45 L485.35,101.45 L484.93,102.44 L484.48,103.44 L484.00,104.43 L483.48,105.41 L482.94,106.39 L482.36,107.37 L481.75,108.34 L481.11,109.31 L480.44,110.27 L479.74,111.23 L479.01,112.17 L478.25,113.12 L477.45,114.05 L476.63,114.98 L475.77,115.89 L474.88,116.80 L473.97,117.70 L473.02,118.60 L472.04,119.48 L471.04,120.35 L470.00,121.21 L468.94,122.06 L467.84,122.90 L466.72,123.72 L465.57,124.54 L464.39,125.34 L463.18,126.13 L461.95,126.91 L460.69,127.67 L459.40,128.42 L458.08,129.15 L456.74,129.87 L455.38,130.57 L453.99,131.26 L452.57,131.93 L451.13,132.59 L449.67,133.23 L448.19,133.85 L446.68,134.46 L445.15,135.04 L443.60,135.61 L442.03,136.17 L440.44,136.70 L438.83,137.21 L437.20,137.71 L435.55,138.18 L433.88,138.64 L432.20,139.08 L430.50,139.49 L428.79,139.89 L427.06,140.27 L425.32,140.62 L423.56,140.95 L421.79,141.27 L420.01,141.56 L418.22,141.83 L416.42,142.08 L414.61,142.30 L412.79,142.51 L410.96,142.69 L409.13,142.85 L407.28,142.99 L405.44,143.11 L403.59,143.20 L401.73,143.27 L399.87,143.32 L398.01,143.35 L396.15,143.35 L394.29,143.33 L393.90,160.63 L395.71,160.65 L397.53,160.65 L399.35,160.62 L401.16,160.57 L402.97,160.50 L404.78,160.41 L406.58,160.29 L408.38,160.15 L410.17,159.99 L411.95,159.80 L413.73,159.59 L415.50,159.37 L417.26,159.11 L419.00,158.84 L420.74,158.55 L422.47,158.23 L424.18,157.89 L425.88,157.54 L427.57,157.16 L429.25,156.76 L430.91,156.33 L432.55,155.89 L434.18,155.43 L435.79,154.95 L437.38,154.45 L438.95,153.93 L440.51,153.39 L442.04,152.83 L443.56,152.26 L445.05,151.66 L446.53,151.05 L447.98,150.42 L449.41,149.78 L450.82,149.11 L452.20,148.43 L453.56,147.74 L454.90,147.03 L456.21,146.30 L457.50,145.56 L458.76,144.80 L459.99,144.03 L461.20,143.24 L462.38,142.45 L463.54,141.63 L464.67,140.81 L465.77,139.97 L466.84,139.13 L467.88,138.27 L468.90,137.39 L469.89,136.51 L470.84,135.62 L471.77,134.72 L472.67,133.81 L473.54,132.88 L474.38,131.95 L475.19,131.02 L475.97,130.07 L476.73,129.12 L477.45,128.16 L478.14,127.19 L478.80,126.21 L479.42,125.23 L480.02,124.25 L480.59,123.26 L481.13,122.26 L481.64,121.26 L482.11,120.26 L482.56,119.25 L482.98,118.24 L483.36,117.23 L483.72,116.21 L484.04,115.20 L484.34,114.18 L484.60,113.16 L484.84,112.13 L485.04,111.11 L485.22,110.09Z" fill="url(#g8)" stroke="url(#g8)" stroke-width="0.4" stroke-linejoin="round"/>
<path d="M378.33,152.56 L376.43,152.51 L374.53,152.45 L372.63,152.36 L370.73,152.25 L368.84,152.11 L366.96,151.95 L365.08,151.77 L363.21,151.56 L361.34,151.33 L359.49,151.08 L357.64,150.80 L355.80,150.51 L353.98,150.19 L352.17,149.85 L350.37,149.48 L348.58,149.10 L346.80,148.69 L345.05,148.26 L343.30,147.81 L341.58,147.34 L339.87,146.85 L338.17,146.34 L336.50,145.81 L334.85,145.26 L333.21,144.69 L331.60,144.11 L330.00,143.50 L328.43,142.87 L326.88,142.23 L325.36,141.57 L323.85,140.89 L322.37,140.19 L320.92,139.48 L319.49,138.75 L318.08,138.01 L316.70,137.25 L315.35,136.47 L314.02,135.68 L312.72,134.88 L311.45,134.06 L310.21,133.23 L308.99,132.38 L307.80,131.52 L306.65,130.65 L305.52,129.77 L304.42,128.88 L303.35,127.97 L302.31,127.06 L301.30,126.13 L300.32,125.20 L299.38,124.26 L298.46,123.30 L297.57,122.34 L296.72,121.37 L295.90,120.39 L295.11,119.41 L294.35,118.42 L293.62,117.42 L292.92,116.42 L292.26,115.41 L291.63,114.39 L291.02,113.37 L290.46,112.35 L289.92,111.32 L289.41,110.29 L288.94,109.26 L288.50,108.22 L288.09,107.18 L287.71,106.14 L287.37,105.10 L287.05,104.05 L286.77,103.01 L286.52,101.96 L286.30,100.92 L286.11,99.87 L285.95,98.82 L287.97,115.58 L288.13,116.64 L288.32,117.70 L288.54,118.76 L288.80,119.82 L289.08,120.88 L289.39,121.94 L289.73,123.00 L290.10,124.06 L290.51,125.11 L290.94,126.16 L291.41,127.21 L291.91,128.25 L292.44,129.29 L293.00,130.33 L293.59,131.36 L294.21,132.39 L294.86,133.41 L295.55,134.43 L296.26,135.44 L297.01,136.44 L297.79,137.44 L298.59,138.43 L299.43,139.41 L300.30,140.38 L301.20,141.35 L302.13,142.30 L303.09,143.25 L304.08,144.19 L305.09,145.11 L306.14,146.03 L307.22,146.93 L308.32,147.82 L309.46,148.70 L310.62,149.57 L311.81,150.42 L313.03,151.26 L314.27,152.09 L315.54,152.90 L316.84,153.70 L318.16,154.48 L319.51,155.25 L320.88,156.00 L322.28,156.74 L323.70,157.46 L325.15,158.16 L326.62,158.85 L328.11,159.52 L329.63,160.17 L331.16,160.80 L332.72,161.41 L334.29,162.01 L335.89,162.58 L337.51,163.14 L339.14,163.67 L340.79,164.19 L342.46,164.68 L344.15,165.16 L345.85,165.61 L347.57,166.04 L349.30,166.45 L351.04,166.84 L352.80,167.21 L354.57,167.55 L356.35,167.88 L358.14,168.18 L359.94,168.45 L361.75,168.71 L363.57,168.94 L365.40,169.15 L367.23,169.33 L369.07,169.49 L370.91,169.63 L372.76,169.75 L374.61,169.84 L376.47,169.90 L378.32,169.95Z" fill="url(#g10)" stroke="url(#g10)" stroke-width="0.4" stroke-linejoin="round"/>
<path d="M394.35,79.45 L365.19,32.65 L366.56,32.39 L367.95,32.16 L369.33,31.93 L370.72,31.72 L372.12,31.52 L373.52,31.34 L374.93,31.17 L376.34,31.01 L377.75,30.87 L379.17,30.74 L380.59,30.62 L382.02,30.51 L383.44,30.42 L384.87,30.34 L386.30,30.28 L387.73,30.23 L389.17,30.19 L390.60,30.17 L392.04,30.16 L393.47,30.16 L394.91,30.17 L396.35,30.20 L397.78,30.25 L399.22,30.30 L400.66,30.37 L402.09,30.46 L403.52,30.55 L404.95,30.66 L406.38,30.78 L407.81,30.92 L409.23,31.07 L410.65,31.23 L412.07,31.41 L413.49,31.60 L414.90,31.80 L416.30,32.02 L417.70,32.25 L419.10,32.49 L420.49,32.74 L421.88,33.01 L423.26,33.29 L424.64,33.59 L426.01,33.90 L427.37,34.22 L428.73,34.55 L430.08,34.90 L431.42,35.26 L432.75,35.63 L434.08,36.02 L435.40,36.41 L436.71,36.83 L438.01,37.25 L439.30,37.69 L440.58,38.13 L441.85,38.60 L443.12,39.07 L444.37,39.56 L445.61,40.05 L446.84,40.56 L448.06,41.09 L449.26,41.62 L450.46,42.17 L451.64,42.73 L452.81,43.30 L453.96,43.88 L455.11,44.48 L456.23,45.08 L457.35,45.70 L458.45,46.33 L459.54,46.97 L460.61,47.63 L461.66,48.29 L462.70,48.96 L463.73,49.65 L464.73,50.35 L465.73,51.05 L466.70,51.77 L467.66,52.50 L468.60,53.24 L469.52,53.99 L470.42,54.75 L471.30,55.52 L472.17,56.29 L473.01,57.08 L473.84,57.88 L474.65,58.69 L475.43,59.51 L476.20,60.33 L476.94,61.17 L477.67,62.01 L478.37,62.87 L479.05,63.73 L479.70,64.60 L480.34,65.47 L480.95,66.36 L481.54,67.25 L482.10,68.15 L482.65,69.06 L483.16,69.97 L483.66,70.90 L484.12,71.82 L484.57,72.76 L484.98,73.70 L485.38,74.65 L485.74,75.60 L486.08,76.56 L486.39,77.52 L486.68,78.49 L486.94,79.46 L487.17,80.44 L487.38,81.42 L487.55,82.40 L487.70,83.39 L487.82,84.38 L487.92,85.38 L487.98,86.38 L488.01,87.38 L488.02,88.38 L487.99,89.38 L487.94,90.39 L487.86,91.39 L487.74,92.40 L487.60,93.41 L487.43,94.42 L487.22,95.42 L486.99,96.43 L486.72,97.44 L486.42,98.44 L486.10,99.45 L485.74,100.45 L485.35,101.45 L484.93,102.44 L484.48,103.44 L484.00,104.43 L483.48,105.41 L482.94,106.39 L482.36,107.37 L481.75,108.34 L481.11,109.31 L480.44,110.27 L479.74,111.23 L479.01,112.17 L478.25,113.12 L477.45,114.05 L476.63,114.98 L475.77,115.89 L474.88,116.80 L473.97,117.70 L473.02,118.60 L472.04,119.48 L471.04,120.35 L470.00,121.21 L468.94,122.06 L467.84,122.90 L466.72,123.72 L465.57,124.54 L464.39,125.34 L463.18,126.13 L461.95,126.91 L460.69,127.67 L459.40,128.42 L458.08,129.15 L456.74,129.87 L455.38,130.57 L453.99,131.26 L452.57,131.93 L451.13,132.59 L449.67,133.23 L448.19,133.85 L446.68,134.46 L445.15,135.04 L443.60,135.61 L442.03,136.17 L440.44,136.70 L438.83,137.21 L437.20,137.71 L435.55,138.18 L433.88,138.64 L432.20,139.08 L430.50,139.49 L428.79,139.89 L427.06,140.27 L425.32,140.62 L423.56,140.95 L421.79,141.27 L420.01,141.56 L418.22,141.83 L416.42,142.08 L414.61,142.30 L412.79,142.51 L410.96,142.69 L409.13,142.85 L407.28,142.99 L405.44,143.11 L403.59,143.20 L401.73,143.27 L399.87,143.32 L398.01,143.35 L396.15,143.35 L394.29,143.33Z" fill="#5082bb" stroke="#5082bb" stroke-width="0.5" stroke-linejoin="round"/>
<path d="M380.48,86.43 L378.33,152.56 L376.43,152.51 L374.53,152.45 L372.63,152.36 L370.73,152.25 L368.84,152.11 L366.96,151.95 L365.08,151.77 L363.21,151.56 L361.34,151.33 L359.49,151.08 L357.64,150.80 L355.80,150.51 L353.98,150.19 L352.17,149.85 L350.37,149.48 L348.58,149.10 L346.80,148.69 L345.05,148.26 L343.30,147.81 L341.58,147.34 L339.87,146.85 L338.17,146.34 L336.50,145.81 L334.85,145.26 L333.21,144.69 L331.60,144.11 L330.00,143.50 L328.43,142.87 L326.88,142.23 L325.36,141.57 L323.85,140.89 L322.37,140.19 L320.92,139.48 L319.49,138.75 L318.08,138.01 L316.70,137.25 L315.35,136.47 L314.02,135.68 L312.72,134.88 L311.45,134.06 L310.21,133.23 L308.99,132.38 L307.80,131.52 L306.65,130.65 L305.52,129.77 L304.42,128.88 L303.35,127.97 L302.31,127.06 L301.30,126.13 L300.32,125.20 L299.38,124.26 L298.46,123.30 L297.57,122.34 L296.72,121.37 L295.90,120.39 L295.11,119.41 L294.35,118.42 L293.62,117.42 L292.92,116.42 L292.26,115.41 L291.63,114.39 L291.02,113.37 L290.46,112.35 L289.92,111.32 L289.41,110.29 L288.94,109.26 L288.50,108.22 L288.09,107.18 L287.71,106.14 L287.37,105.10 L287.05,104.05 L286.77,103.01 L286.52,101.96 L286.30,100.92 L286.11,99.87 L285.95,98.82 L285.82,97.78 L285.73,96.74Z" fill="#c2504e" stroke="#c2504e" stroke-width="0.5" stroke-linejoin="round"/>
<path d="M377.44,77.23 L284.65,87.11 L284.59,86.11 L284.55,85.12 L284.55,84.13 L284.57,83.14 L284.63,82.16 L284.71,81.17 L284.82,80.20 L284.96,79.22 L285.12,78.25 L285.32,77.28 L285.54,76.32 L285.78,75.36 L286.06,74.40 L286.36,73.46 L286.69,72.51 L287.04,71.57 L287.42,70.64 L287.83,69.72 L288.26,68.80 L288.71,67.88 L289.19,66.98 L289.70,66.08 L290.23,65.19 L290.78,64.30 L291.35,63.42 L291.95,62.55 L292.57,61.69 L293.22,60.84 L293.88,59.99 L294.57,59.16 L295.28,58.33 L296.01,57.51 L296.76,56.70 L297.53,55.90 L298.33,55.11 L299.14,54.33 L299.97,53.55 L300.82,52.79 L301.69,52.04 L302.58,51.30 L303.49,50.56 L304.41,49.84 L305.36,49.13 L306.32,48.43 L307.29,47.74 L308.29,47.06 L309.30,46.39 L310.32,45.73 L311.37,45.09 L312.42,44.45 L313.50,43.83 L314.58,43.21 L315.69,42.61 L316.80,42.02 L317.93,41.45 L319.07,40.88 L320.23,40.33 L321.40,39.78 L322.58,39.25 L323.77,38.73 L324.98,38.23 L326.20,37.73 L327.42,37.25 L328.66,36.78 L329.91,36.32 L331.17,35.88 L332.44,35.45 L333.72,35.03 L335.01,34.62 L336.31,34.22 L337.62,33.84 L338.93,33.47 L340.25,33.12 L341.59,32.77Z" fill="#9bbb5c" stroke="#9bbb5c" stroke-width="0.5" stroke-linejoin="round"/>
<path d="M382.13,76.46 L345.85,32.15 L347.27,31.80 L348.69,31.47 L350.13,31.14 L351.57,30.84 L353.02,30.54 L354.47,30.27Z" fill="#8064a2" stroke="#8064a2" stroke-width="0.5" stroke-linejoin="round"/>
<path d="M487.60,93.41 L487.43,94.42 L487.22,95.42 L486.99,96.43 L486.72,97.44 L486.42,98.44 L486.10,99.45 L485.74,100.45 L485.35,101.45 L484.93,102.44 L484.48,103.44 L484.00,104.43 L483.48,105.41 L482.94,106.39 L482.36,107.37 L481.75,108.34 L481.11,109.31 L480.44,110.27 L479.74,111.23 L479.01,112.17 L478.25,113.12 L477.45,114.05 L476.63,114.98 L475.77,115.89 L474.88,116.80 L473.97,117.70 L473.02,118.60 L472.04,119.48 L471.04,120.35 L470.00,121.21 L468.94,122.06 L467.84,122.90 L466.72,123.72 L465.57,124.54 L464.39,125.34 L463.18,126.13 L461.95,126.91 L460.69,127.67 L459.40,128.42 L458.08,129.15 L456.74,129.87 L455.38,130.57 L453.99,131.26 L452.57,131.93 L451.13,132.59 L449.67,133.23 L448.19,133.85 L446.68,134.46 L445.15,135.04 L443.60,135.61 L442.03,136.17 L440.44,136.70 L438.83,137.21 L437.20,137.71 L435.55,138.18 L433.88,138.64 L432.20,139.08 L430.50,139.49 L428.79,139.89 L427.06,140.27 L425.32,140.62 L423.56,140.95 L421.79,141.27 L420.01,141.56 L418.22,141.83 L416.42,142.08 L414.61,142.30 L412.79,142.51 L410.96,142.69 L409.13,142.85 L407.28,142.99 L405.44,143.11 L403.59,143.20 L401.73,143.27 L399.87,143.32 L398.01,143.35 L396.15,143.35 L394.29,143.33" fill="none" stroke="url(#b9)" stroke-width="1.10" stroke-linecap="round"/>
<path d="M378.33,152.56 L376.43,152.51 L374.53,152.45 L372.63,152.36 L370.73,152.25 L368.84,152.11 L366.96,151.95 L365.08,151.77 L363.21,151.56 L361.34,151.33 L359.49,151.08 L357.64,150.80 L355.80,150.51 L353.98,150.19 L352.17,149.85 L350.37,149.48 L348.58,149.10 L346.80,148.69 L345.05,148.26 L343.30,147.81 L341.58,147.34 L339.87,146.85 L338.17,146.34 L336.50,145.81 L334.85,145.26 L333.21,144.69 L331.60,144.11 L330.00,143.50 L328.43,142.87 L326.88,142.23 L325.36,141.57 L323.85,140.89 L322.37,140.19 L320.92,139.48 L319.49,138.75 L318.08,138.01 L316.70,137.25 L315.35,136.47 L314.02,135.68 L312.72,134.88 L311.45,134.06 L310.21,133.23 L308.99,132.38 L307.80,131.52 L306.65,130.65 L305.52,129.77 L304.42,128.88 L303.35,127.97 L302.31,127.06 L301.30,126.13 L300.32,125.20 L299.38,124.26 L298.46,123.30 L297.57,122.34 L296.72,121.37 L295.90,120.39 L295.11,119.41 L294.35,118.42 L293.62,117.42 L292.92,116.42 L292.26,115.41 L291.63,114.39 L291.02,113.37 L290.46,112.35 L289.92,111.32 L289.41,110.29 L288.94,109.26 L288.50,108.22 L288.09,107.18 L287.71,106.14 L287.37,105.10 L287.05,104.05 L286.77,103.01 L286.52,101.96 L286.30,100.92 L286.11,99.87 L285.95,98.82" fill="none" stroke="url(#b11)" stroke-width="1.10" stroke-linecap="round"/>
<text x="201.0" y="64.5" font-size="7.90" text-anchor="middle" font-weight="bold" fill="#0c1c3a" >HeLa</text>
<text x="200.1" y="73.6" font-size="7.90" text-anchor="middle" font-weight="bold" fill="#0c1c3a" >221</text>
<text x="162.5" y="119.0" font-size="7.90" text-anchor="middle" font-weight="bold" fill="#350a0a" >CHO</text>
<text x="162.7" y="127.4" font-size="7.90" text-anchor="middle" font-weight="bold" fill="#350a0a" >83</text>
<text x="108.0" y="118.3" font-size="7.90" text-anchor="middle" font-weight="bold" fill="#18260a" >NIH-3T3</text>
<text x="107.8" y="126.8" font-size="7.90" text-anchor="middle" font-weight="bold" fill="#18260a" >80</text>
<text x="74.2" y="87.7" font-size="7.40" text-anchor="middle" font-weight="bold" fill="#160c2a" >Bowes</text>
<text x="73.8" y="96.6" font-size="7.40" text-anchor="middle" font-weight="bold" fill="#160c2a" >melanoma</text>
<text x="74.6" y="105.1" font-size="7.90" text-anchor="middle" font-weight="bold" fill="#160c2a" >54</text>
<text x="64.8" y="61.0" font-size="7.90" text-anchor="middle" font-weight="bold" fill="#052535" >EBTr</text>
<text x="64.6" y="69.8" font-size="7.90" text-anchor="middle" font-weight="bold" fill="#052535" >51</text>
<text x="53.8" y="28.1" font-size="7.90" text-anchor="middle" font-weight="bold" fill="#000" >Jurkat</text>
<text x="52.4" y="36.3" font-size="7.90" text-anchor="middle" font-weight="bold" fill="#000" >47</text>
<text x="76.7" y="16.0" font-size="7.50" text-anchor="middle" font-weight="bold" fill="#000" >9 L/LacZ</text>
<text x="76.4" y="25.3" font-size="7.90" text-anchor="middle" font-weight="bold" fill="#000" >40</text>
<text x="120.9" y="8.3" font-size="7.90" text-anchor="middle" font-weight="bold" fill="#000" >RAW246.7</text>
<text x="120.3" y="16.4" font-size="7.90" text-anchor="middle" font-weight="bold" fill="#000" >36</text>
<text x="183.6" y="8.4" font-size="7.90" text-anchor="middle" font-weight="bold" fill="#000" >HIG-82</text>
<text x="183.0" y="17.2" font-size="7.90" text-anchor="middle" font-weight="bold" fill="#000" >31</text>
<text x="339.8" y="17.0" font-size="7.90" text-anchor="middle" font-weight="bold" fill="#000" >Others</text>
<text x="339.9" y="28.0" font-size="7.90" text-anchor="middle" font-weight="bold" fill="#000" >15</text>
<text x="328.0" y="67.0" font-size="7.90" text-anchor="middle" font-weight="bold" fill="#18260a" >Endocytic</text>
<text x="328.0" y="76.7" font-size="7.90" text-anchor="middle" font-weight="bold" fill="#18260a" >174</text>
<text x="349.1" y="106.0" font-size="7.90" text-anchor="middle" font-weight="bold" fill="#350a0a" >Non-</text>
<text x="348.9" y="115.3" font-size="7.90" text-anchor="middle" font-weight="bold" fill="#350a0a" >endocytic</text>
<text x="349.2" y="124.6" font-size="7.90" text-anchor="middle" font-weight="bold" fill="#350a0a" >184</text>
<text x="430.0" y="79.0" font-size="7.90" text-anchor="middle" font-weight="bold" fill="#0c1c3a" >Unknown</text>
<text x="430.0" y="89.0" font-size="7.90" text-anchor="middle" font-weight="bold" fill="#0c1c3a" >470</text>
<g fill="none" stroke="#333" stroke-width="0.7"><path d="M92.7,15.2 L95.8,15.2 L101.3,23.4"/><path d="M65.3,26.8 L67.6,26.8 L69.3,37.2"/><path d="M140.2,6.9 L134.6,17.3"/><path d="M170.9,7.4 L166.2,7.4 L164.5,18.2"/><path d="M345.4,27.1 L348.3,27.1 L350.6,29.8"/></g>
<g>
<rect x="37.90" y="337.42" width="2.9" height="44.88" fill="#3a3fa0"/>
<rect x="40.80" y="334.78" width="2.9" height="47.52" fill="#e8222e"/>
<text x="40.7" y="398.6" font-size="8.50" text-anchor="middle" font-weight="bold" fill="#000" >A</text>
<rect x="48.08" y="366.79" width="2.9" height="15.51" fill="#3a3fa0"/>
<rect x="50.98" y="371.08" width="2.9" height="11.22" fill="#e8222e"/>
<text x="50.9" y="398.6" font-size="8.50" text-anchor="middle" font-weight="bold" fill="#000" >C</text>
<rect x="58.25" y="372.73" width="2.9" height="9.57" fill="#3a3fa0"/>
<rect x="61.15" y="348.71" width="2.9" height="33.59" fill="#e8222e"/>
<text x="61.0" y="398.6" font-size="8.50" text-anchor="middle" font-weight="bold" fill="#000" >D</text>
<rect x="68.42" y="371.94" width="2.9" height="10.36" fill="#3a3fa0"/>
<rect x="71.33" y="340.06" width="2.9" height="42.24" fill="#e8222e"/>
<text x="71.2" y="398.6" font-size="8.50" text-anchor="middle" font-weight="bold" fill="#000" >E</text>
<rect x="78.60" y="365.40" width="2.9" height="16.90" fill="#3a3fa0"/>
<rect x="81.50" y="354.71" width="2.9" height="27.59" fill="#e8222e"/>
<text x="81.4" y="398.6" font-size="8.50" text-anchor="middle" font-weight="bold" fill="#000" >F</text>
<rect x="88.77" y="358.74" width="2.9" height="23.56" fill="#3a3fa0"/>
<rect x="91.67" y="341.51" width="2.9" height="40.79" fill="#e8222e"/>
<text x="91.6" y="398.6" font-size="8.50" text-anchor="middle" font-weight="bold" fill="#000" >G</text>
<rect x="98.95" y="369.10" width="2.9" height="13.20" fill="#3a3fa0"/>
<rect x="101.85" y="368.77" width="2.9" height="13.53" fill="#e8222e"/>
<text x="101.7" y="398.6" font-size="8.50" text-anchor="middle" font-weight="bold" fill="#000" >H</text>
<rect x="109.13" y="346.20" width="2.9" height="36.10" fill="#3a3fa0"/>
<rect x="112.03" y="342.70" width="2.9" height="39.60" fill="#e8222e"/>
<text x="111.9" y="398.6" font-size="8.50" text-anchor="middle" font-weight="bold" fill="#000" >I</text>
<rect x="119.30" y="285.94" width="2.9" height="96.36" fill="#3a3fa0"/>
<rect x="122.20" y="340.06" width="2.9" height="42.24" fill="#e8222e"/>
<text x="122.1" y="398.6" font-size="8.50" text-anchor="middle" font-weight="bold" fill="#000" >K</text>
<rect x="129.48" y="331.81" width="2.9" height="50.49" fill="#3a3fa0"/>
<rect x="132.38" y="318.02" width="2.9" height="64.28" fill="#e8222e"/>
<text x="132.3" y="398.6" font-size="8.50" text-anchor="middle" font-weight="bold" fill="#000" >L</text>
<rect x="139.65" y="367.78" width="2.9" height="14.52" fill="#3a3fa0"/>
<rect x="142.55" y="366.79" width="2.9" height="15.51" fill="#e8222e"/>
<text x="142.4" y="398.6" font-size="8.50" text-anchor="middle" font-weight="bold" fill="#000" >M</text>
<rect x="149.83" y="368.44" width="2.9" height="13.86" fill="#3a3fa0"/>
<rect x="152.73" y="351.94" width="2.9" height="30.36" fill="#e8222e"/>
<text x="152.6" y="398.6" font-size="8.50" text-anchor="middle" font-weight="bold" fill="#000" >N</text>
<rect x="160.00" y="348.97" width="2.9" height="33.33" fill="#3a3fa0"/>
<rect x="162.90" y="351.28" width="2.9" height="31.02" fill="#e8222e"/>
<text x="162.8" y="398.6" font-size="8.50" text-anchor="middle" font-weight="bold" fill="#000" >P</text>
<rect x="170.18" y="359.40" width="2.9" height="22.90" fill="#3a3fa0"/>
<rect x="173.08" y="356.89" width="2.9" height="25.41" fill="#e8222e"/>
<text x="173.0" y="398.6" font-size="8.50" text-anchor="middle" font-weight="bold" fill="#000" >Q</text>
<rect x="180.35" y="238.09" width="2.9" height="144.21" fill="#3a3fa0"/>
<rect x="183.25" y="347.52" width="2.9" height="34.78" fill="#e8222e"/>
<text x="183.1" y="398.6" font-size="8.50" text-anchor="middle" font-weight="bold" fill="#000" >R</text>
<rect x="190.53" y="356.56" width="2.9" height="25.74" fill="#3a3fa0"/>
<rect x="193.43" y="333.92" width="2.9" height="48.38" fill="#e8222e"/>
<text x="193.3" y="398.6" font-size="8.50" text-anchor="middle" font-weight="bold" fill="#000" >S</text>
<rect x="200.70" y="362.24" width="2.9" height="20.06" fill="#3a3fa0"/>
<rect x="203.60" y="348.18" width="2.9" height="34.12" fill="#e8222e"/>
<text x="203.5" y="398.6" font-size="8.50" text-anchor="middle" font-weight="bold" fill="#000" >T</text>
<rect x="210.88" y="366.33" width="2.9" height="15.97" fill="#3a3fa0"/>
<rect x="213.78" y="340.19" width="2.9" height="42.11" fill="#e8222e"/>
<text x="213.7" y="398.6" font-size="8.50" text-anchor="middle" font-weight="bold" fill="#000" >V</text>
<rect x="221.05" y="354.71" width="2.9" height="27.59" fill="#3a3fa0"/>
<rect x="223.95" y="375.04" width="2.9" height="7.26" fill="#e8222e"/>
<text x="223.8" y="398.6" font-size="8.50" text-anchor="middle" font-weight="bold" fill="#000" >W</text>
<rect x="231.23" y="370.09" width="2.9" height="12.21" fill="#3a3fa0"/>
<rect x="234.13" y="361.84" width="2.9" height="20.46" fill="#e8222e"/>
<text x="234.0" y="398.6" font-size="8.50" text-anchor="middle" font-weight="bold" fill="#000" >Y</text>
</g>
<g stroke="#000" stroke-width="0.9" fill="none">
<path d="M35.6,217.3 L35.6,382.3"/>
<path d="M35.6,382.3 L239.1,382.3"/>
<path d="M33.4,382.3 L35.6,382.3"/>
<path d="M33.4,349.3 L35.6,349.3"/>
<path d="M33.4,316.3 L35.6,316.3"/>
<path d="M33.4,283.3 L35.6,283.3"/>
<path d="M33.4,250.3 L35.6,250.3"/>
<path d="M33.4,217.3 L35.6,217.3"/>
<path d="M35.6,382.3 L35.6,384.5"/>
<path d="M45.8,382.3 L45.8,384.5"/>
<path d="M56.0,382.3 L56.0,384.5"/>
<path d="M66.1,382.3 L66.1,384.5"/>
<path d="M76.3,382.3 L76.3,384.5"/>
<path d="M86.5,382.3 L86.5,384.5"/>
<path d="M96.7,382.3 L96.7,384.5"/>
<path d="M106.8,382.3 L106.8,384.5"/>
<path d="M117.0,382.3 L117.0,384.5"/>
<path d="M127.2,382.3 L127.2,384.5"/>
<path d="M137.3,382.3 L137.3,384.5"/>
<path d="M147.5,382.3 L147.5,384.5"/>
<path d="M157.7,382.3 L157.7,384.5"/>
<path d="M167.9,382.3 L167.9,384.5"/>
<path d="M178.1,382.3 L178.1,384.5"/>
<path d="M188.2,382.3 L188.2,384.5"/>
<path d="M198.4,382.3 L198.4,384.5"/>
<path d="M208.6,382.3 L208.6,384.5"/>
<path d="M218.8,382.3 L218.8,384.5"/>
<path d="M228.9,382.3 L228.9,384.5"/>
<path d="M239.1,382.3 L239.1,384.5"/>
</g>
<text x="28.0" y="385.3" font-size="8.50" text-anchor="end" font-weight="normal" fill="#000" stroke="#000" stroke-width="0.22">0</text>
<text x="28.0" y="352.3" font-size="8.50" text-anchor="end" font-weight="normal" fill="#000" stroke="#000" stroke-width="0.22">5</text>
<text x="28.0" y="319.3" font-size="8.50" text-anchor="end" font-weight="normal" fill="#000" stroke="#000" stroke-width="0.22">10</text>
<text x="28.0" y="286.3" font-size="8.50" text-anchor="end" font-weight="normal" fill="#000" stroke="#000" stroke-width="0.22">15</text>
<text x="28.0" y="253.3" font-size="8.50" text-anchor="end" font-weight="normal" fill="#000" stroke="#000" stroke-width="0.22">20</text>
<text x="28.0" y="220.3" font-size="8.50" text-anchor="end" font-weight="normal" fill="#000" stroke="#000" stroke-width="0.22">25</text>
<text x="133.0" y="413.8" font-size="9.90" text-anchor="middle" font-weight="normal" fill="#000" stroke="#000" stroke-width="0.22">Amino acid</text>
<text transform="translate(8.8,301) rotate(-90)" font-size="9.6" text-anchor="middle" fill="#000" stroke="#000" stroke-width="0.22">Average composition (%)</text>
<rect x="60" y="228.9" width="4" height="4" fill="#3a3fa0"/>
<text x="66.9" y="233.5" font-size="8.60" text-anchor="start" font-weight="normal" fill="#000" stroke="#000" stroke-width="0.22">CPPs</text>
<rect x="109.3" y="228.9" width="4.2" height="4" fill="#e8222e"/>
<text x="115.6" y="233.5" font-size="8.70" text-anchor="start" font-weight="normal" fill="#000" stroke="#000" stroke-width="0.22">SwissProt</text>
<defs>
<linearGradient id="gd0" x1="0" x2="1" y1="0" y2="0"><stop offset="0" stop-color="#395d88"/><stop offset="0.18" stop-color="#4f81bd"/><stop offset="0.6" stop-color="#5686c0"/><stop offset="0.85" stop-color="#4672a6"/><stop offset="1" stop-color="#28405e"/></linearGradient>
<linearGradient id="gd1" x1="0" x2="1" y1="0" y2="0"><stop offset="0" stop-color="#8a3a37"/><stop offset="0.18" stop-color="#c0504d"/><stop offset="0.6" stop-color="#c35754"/><stop offset="0.85" stop-color="#a94644"/><stop offset="1" stop-color="#602826"/></linearGradient>
<linearGradient id="gd2" x1="0" x2="1" y1="0" y2="0"><stop offset="0" stop-color="#708740"/><stop offset="0.18" stop-color="#9bbb59"/><stop offset="0.6" stop-color="#9fbe60"/><stop offset="0.85" stop-color="#88a54e"/><stop offset="1" stop-color="#4e5e2c"/></linearGradient>
<linearGradient id="gd3" x1="0" x2="1" y1="0" y2="0"><stop offset="0" stop-color="#5c4875"/><stop offset="0.18" stop-color="#8064a2"/><stop offset="0.6" stop-color="#856aa6"/><stop offset="0.85" stop-color="#71588f"/><stop offset="1" stop-color="#403251"/></linearGradient>
</defs>
<rect x="296.40" y="302.87" width="8.0" height="81.44" fill="url(#gd0)" stroke="#243a55" stroke-width="0.5"/>
<path d="M297.60,303.47 L303.20,303.47 L300.40,305.47 Z" fill="#b0c6e1"/>
<rect x="304.55" y="230.58" width="8.0" height="153.72" fill="url(#gd1)" stroke="#562423" stroke-width="0.5"/>
<path d="M305.75,231.18 L311.35,231.18 L308.55,233.18 Z" fill="#e3b0af"/>
<rect x="312.70" y="332.14" width="8.0" height="52.16" fill="url(#gd2)" stroke="#465428" stroke-width="0.5"/>
<path d="M313.90,332.75 L319.50,332.75 L316.70,334.75 Z" fill="#d2e0b4"/>
<rect x="320.85" y="376.61" width="8.0" height="7.69" fill="url(#gd3)" stroke="#3a2d49" stroke-width="0.5"/>
<path d="M322.05,377.21 L327.65,377.21 L324.85,379.21 Z" fill="#c6b9d5"/>
<text x="313.0" y="400.0" font-size="8.60" text-anchor="middle" font-weight="normal" fill="#000" stroke="#000" stroke-width="0.22">0-20</text>
<rect x="341.94" y="342.58" width="8.0" height="41.72" fill="url(#gd0)" stroke="#243a55" stroke-width="0.5"/>
<path d="M343.14,343.18 L348.74,343.18 L345.94,345.18 Z" fill="#b0c6e1"/>
<rect x="358.24" y="320.62" width="8.0" height="63.68" fill="url(#gd2)" stroke="#465428" stroke-width="0.5"/>
<path d="M359.44,321.22 L365.04,321.22 L362.24,323.22 Z" fill="#d2e0b4"/>
<rect x="366.39" y="333.98" width="8.0" height="50.32" fill="url(#gd3)" stroke="#3a2d49" stroke-width="0.5"/>
<path d="M367.59,334.58 L373.19,334.58 L370.39,336.58 Z" fill="#c6b9d5"/>
<text x="358.5" y="400.0" font-size="8.60" text-anchor="middle" font-weight="normal" fill="#000" stroke="#000" stroke-width="0.22">20-40</text>
<rect x="387.48" y="363.80" width="8.0" height="20.50" fill="url(#gd0)" stroke="#243a55" stroke-width="0.5"/>
<path d="M388.68,364.40 L394.28,364.40 L391.48,366.40 Z" fill="#b0c6e1"/>
<rect x="403.78" y="341.30" width="8.0" height="43.01" fill="url(#gd2)" stroke="#465428" stroke-width="0.5"/>
<path d="M404.98,341.90 L410.58,341.90 L407.78,343.90 Z" fill="#d2e0b4"/>
<rect x="411.93" y="324.28" width="8.0" height="60.02" fill="url(#gd3)" stroke="#3a2d49" stroke-width="0.5"/>
<path d="M413.13,324.88 L418.73,324.88 L415.93,326.88 Z" fill="#c6b9d5"/>
<text x="404.0" y="400.0" font-size="8.60" text-anchor="middle" font-weight="normal" fill="#000" stroke="#000" stroke-width="0.22">40-60</text>
<rect x="433.02" y="372.95" width="8.0" height="11.35" fill="url(#gd0)" stroke="#243a55" stroke-width="0.5"/>
<path d="M434.22,373.55 L439.82,373.55 L437.02,375.55 Z" fill="#b0c6e1"/>
<rect x="449.32" y="379.18" width="8.0" height="5.12" fill="url(#gd2)" stroke="#465428" stroke-width="0.5"/>
<path d="M450.52,379.78 L456.12,379.78 L453.32,381.78 Z" fill="#d2e0b4"/>
<rect x="457.47" y="349.90" width="8.0" height="34.40" fill="url(#gd3)" stroke="#3a2d49" stroke-width="0.5"/>
<path d="M458.67,350.50 L464.27,350.50 L461.47,352.50 Z" fill="#c6b9d5"/>
<text x="449.6" y="400.0" font-size="8.60" text-anchor="middle" font-weight="normal" fill="#000" stroke="#000" stroke-width="0.22">60-80</text>
<rect x="478.56" y="382.84" width="8.0" height="1.46" fill="url(#gd0)" stroke="#243a55" stroke-width="0.5"/>
<rect x="503.01" y="374.05" width="8.0" height="10.25" fill="url(#gd3)" stroke="#3a2d49" stroke-width="0.5"/>
<path d="M504.21,374.65 L509.81,374.65 L507.01,376.65 Z" fill="#c6b9d5"/>
<text x="495.1" y="400.0" font-size="8.60" text-anchor="middle" font-weight="normal" fill="#000" stroke="#000" stroke-width="0.22">80-100</text>
<g stroke="#000" stroke-width="0.9" fill="none">
<path d="M290.2,219.6 L290.2,384.3"/>
<path d="M290.2,384.3 L517.9,384.3"/>
<path d="M288.0,384.3 L290.2,384.3"/>
<path d="M288.0,366.0 L290.2,366.0"/>
<path d="M288.0,347.7 L290.2,347.7"/>
<path d="M288.0,329.4 L290.2,329.4"/>
<path d="M288.0,311.1 L290.2,311.1"/>
<path d="M288.0,292.8 L290.2,292.8"/>
<path d="M288.0,274.5 L290.2,274.5"/>
<path d="M288.0,256.2 L290.2,256.2"/>
<path d="M288.0,237.9 L290.2,237.9"/>
<path d="M288.0,219.6 L290.2,219.6"/>
<path d="M290.2,384.3 L290.2,386.5"/>
<path d="M335.7,384.3 L335.7,386.5"/>
<path d="M381.3,384.3 L381.3,386.5"/>
<path d="M426.8,384.3 L426.8,386.5"/>
<path d="M472.4,384.3 L472.4,386.5"/>
<path d="M517.9,384.3 L517.9,386.5"/>
</g>
<text x="283.0" y="387.5" font-size="9.00" text-anchor="end" font-weight="normal" fill="#000" stroke="#000" stroke-width="0.22">0</text>
<text x="283.0" y="369.2" font-size="9.00" text-anchor="end" font-weight="normal" fill="#000" stroke="#000" stroke-width="0.22">100</text>
<text x="283.0" y="350.9" font-size="9.00" text-anchor="end" font-weight="normal" fill="#000" stroke="#000" stroke-width="0.22">200</text>
<text x="283.0" y="332.6" font-size="9.00" text-anchor="end" font-weight="normal" fill="#000" stroke="#000" stroke-width="0.22">300</text>
<text x="283.0" y="314.3" font-size="9.00" text-anchor="end" font-weight="normal" fill="#000" stroke="#000" stroke-width="0.22">400</text>
<text x="283.0" y="296.0" font-size="9.00" text-anchor="end" font-weight="normal" fill="#000" stroke="#000" stroke-width="0.22">500</text>
<text x="283.0" y="277.7" font-size="9.00" text-anchor="end" font-weight="normal" fill="#000" stroke="#000" stroke-width="0.22">600</text>
<text x="283.0" y="259.4" font-size="9.00" text-anchor="end" font-weight="normal" fill="#000" stroke="#000" stroke-width="0.22">700</text>
<text x="283.0" y="241.1" font-size="9.00" text-anchor="end" font-weight="normal" fill="#000" stroke="#000" stroke-width="0.22">800</text>
<text x="283.0" y="222.8" font-size="9.00" text-anchor="end" font-weight="normal" fill="#000" stroke="#000" stroke-width="0.22">900</text>
<text x="401.7" y="413.6" font-size="10.10" text-anchor="middle" font-weight="normal" fill="#000" stroke="#000" stroke-width="0.22">Secondary structure content (%)</text>
<text transform="translate(259.2,303.9) rotate(-90)" font-size="10" text-anchor="middle" fill="#000" stroke="#000" stroke-width="0.22">No. of peptides</text>
<rect x="334.2" y="238.6" width="4.3" height="4.3" fill="#4f81bd"/>
<text x="342.3" y="244.6" font-size="9.70" text-anchor="start" font-weight="normal" fill="#000" stroke="#000" stroke-width="0.22">Helix</text>
<rect x="371.7" y="238.6" width="4.3" height="4.3" fill="#c0504d"/>
<text x="379.6" y="244.6" font-size="9.70" text-anchor="start" font-weight="normal" fill="#000" stroke="#000" stroke-width="0.22">Beta strand</text>
<rect x="437.4" y="238.6" width="4.3" height="4.3" fill="#9bbb59"/>
<text x="445.4" y="244.6" font-size="9.70" text-anchor="start" font-weight="normal" fill="#000" stroke="#000" stroke-width="0.22">Turn</text>
<rect x="473.2" y="238.6" width="4.3" height="4.3" fill="#8064a2"/>
<text x="481.3" y="244.6" font-size="9.70" text-anchor="start" font-weight="normal" fill="#000" stroke="#000" stroke-width="0.22">Coil</text>
</svg>
</body></html>
